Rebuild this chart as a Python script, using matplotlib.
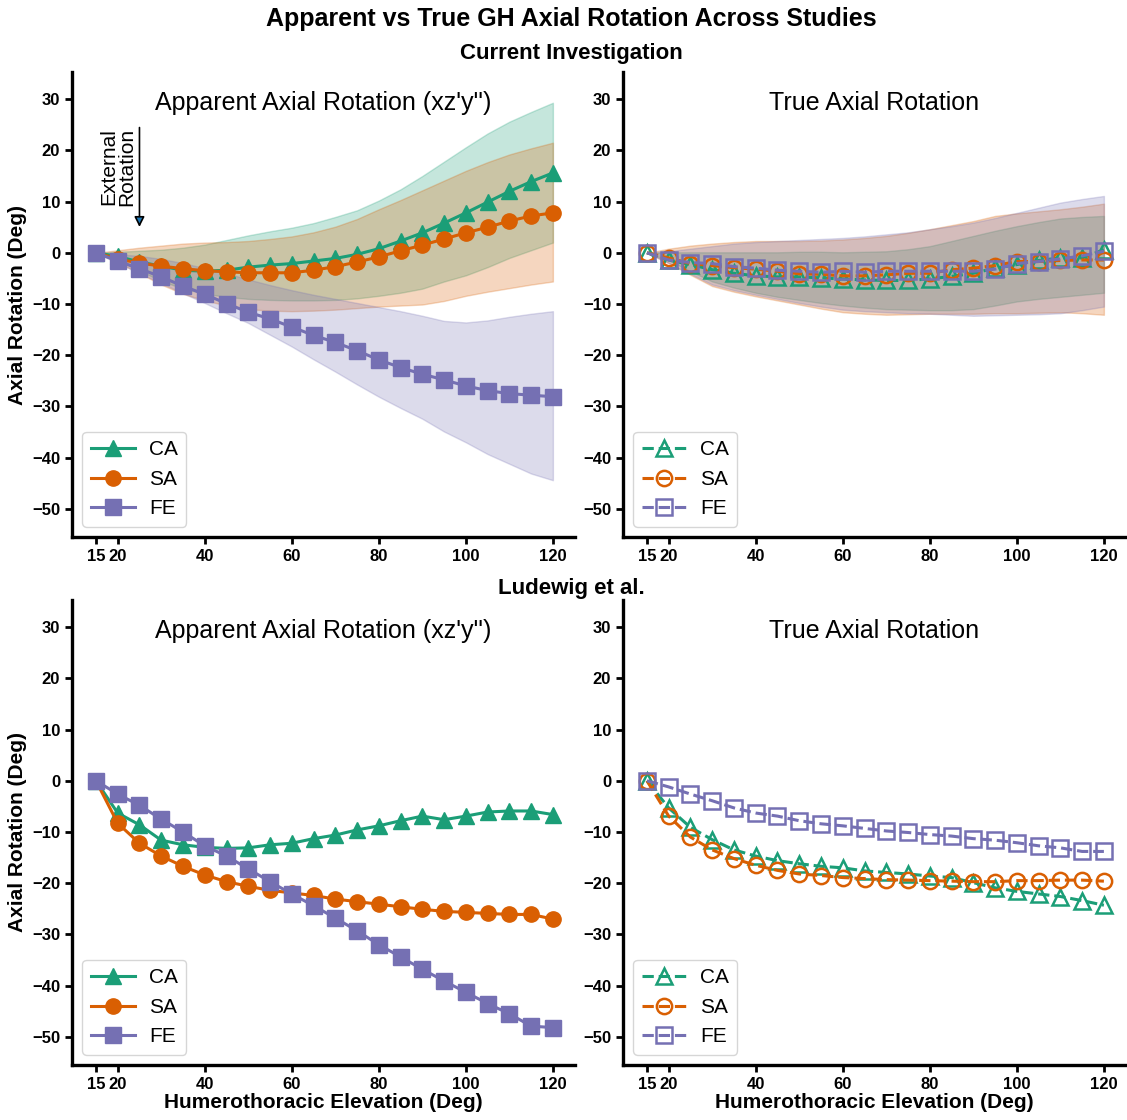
import matplotlib
matplotlib.use("Agg")
import matplotlib.pyplot as plt

plt.rcParams["font.family"] = ["Liberation Sans", "DejaVu Sans"]

elev = [15, 20, 25, 30, 35, 40, 45, 50, 55, 60, 65, 70, 75, 80, 85, 90, 95, 100, 105, 110, 115, 120]
planes = ["CA", "SA", "FE"]
colors = {"CA": "#1b9e77", "SA": "#d95f02", "FE": "#7570b3"}
markers = {"CA": "^", "SA": "o", "FE": "s"}

# current investigation - apparent (xz'y'') mean and +/- sd band
cur_app_mean = {
    "CA": [0, -0.7, -1.8, -2.6, -3.4, -3.6, -3.4, -2.8, -2.4, -2.1, -1.6, -1.1, -0.3, 0.8, 2.3, 3.9, 5.8, 7.8, 9.9, 12.0, 13.9, 15.6],
    "SA": [0, -1.2, -2.0, -2.6, -3.1, -3.5, -3.7, -3.9, -3.9, -3.9, -3.4, -2.7, -1.8, -0.8, 0.4, 1.5, 2.7, 3.9, 5.0, 6.2, 7.2, 7.8],
    "FE": [0, -1.6, -3.1, -4.7, -6.5, -8.1, -9.9, -11.6, -12.9, -14.5, -16.1, -17.5, -19.1, -20.9, -22.4, -23.7, -24.8, -26.0, -26.9, -27.5, -27.8, -28.1],
}
cur_app_upper = {
    "CA": [0, 0.2, 0.4, 0.6, 1.0, 1.6, 2.5, 3.4, 4.2, 4.9, 5.8, 7.0, 8.3, 10.2, 12.4, 15.0, 17.8, 20.6, 23.3, 25.6, 27.5, 29.3],
    "SA": [0, 0.5, 1.0, 1.4, 1.8, 2.0, 2.1, 2.3, 2.7, 3.2, 4.0, 5.1, 6.6, 8.5, 10.3, 12.2, 14.1, 16.0, 17.7, 19.2, 20.4, 21.5],
    "FE": [0, -0.3, -0.6, -1.2, -2.0, -3.0, -4.0, -5.2, -6.3, -7.3, -8.2, -9.0, -9.8, -10.6, -11.4, -12.3, -13.3, -13.6, -13.2, -12.5, -11.9, -11.4],
}
cur_app_lower = {
    "CA": [0, -1.5, -3.5, -5.5, -7.0, -8.0, -8.6, -9.0, -9.2, -9.3, -9.3, -9.2, -8.9, -8.4, -7.8, -7.0, -5.6, -4.4, -2.8, -1.0, 0.5, 2.0],
    "SA": [0, -1.8, -4.0, -6.2, -8.0, -9.3, -10.3, -11.0, -11.3, -11.4, -11.3, -11.1, -10.8, -10.5, -10.3, -10.1, -9.4, -8.4, -7.6, -6.9, -6.2, -5.6],
    "FE": [0, -2.0, -4.0, -5.9, -7.9, -9.8, -11.8, -13.7, -16.0, -18.3, -20.8, -23.2, -25.7, -28.1, -30.3, -32.4, -34.9, -37.0, -39.3, -41.2, -43.1, -44.4],
}

# current investigation - true axial rotation
cur_true_mean = {
    "CA": [0, -1.4, -2.3, -3.3, -4.0, -4.5, -4.7, -4.7, -4.9, -5.1, -5.3, -5.4, -5.4, -5.1, -4.6, -4.0, -3.0, -2.3, -1.5, -1.0, -1.0, 0.6],
    "SA": [0, -1.0, -2.1, -2.5, -2.9, -3.2, -3.6, -4.1, -4.2, -4.5, -4.5, -4.3, -4.0, -4.0, -3.3, -3.0, -2.5, -1.7, -1.7, -1.5, -1.4, -1.4],
    "FE": [0, -1.4, -1.9, -2.1, -2.7, -3.0, -3.4, -3.6, -3.8, -3.6, -3.8, -3.6, -3.6, -3.6, -3.6, -3.6, -3.2, -2.1, -1.7, -1.2, -0.6, 0.3],
}
cur_true_upper = {
    "CA": [0, 0.1, 0.1, 0.1, 0.1, 0.1, 0.1, 0.2, 0.2, 0.1, 0.2, 0.3, 0.7, 1.3, 2.3, 3.3, 4.3, 5.2, 6.0, 6.7, 7.0, 7.2],
    "SA": [0, 0.8, 1.4, 1.8, 2.1, 2.3, 2.3, 2.3, 2.4, 2.6, 2.9, 3.3, 3.9, 4.6, 5.4, 6.2, 7.2, 7.7, 8.1, 8.5, 9.0, 9.6],
    "FE": [0, 0.3, 0.8, 1.3, 1.8, 2.1, 2.3, 2.5, 2.7, 2.9, 3.2, 3.6, 4.0, 4.6, 5.2, 5.9, 6.8, 7.8, 8.8, 9.8, 10.5, 11.1],
}
cur_true_lower = {
    "CA": [0, -1.5, -3.6, -5.6, -6.8, -7.8, -8.6, -9.2, -9.8, -10.3, -10.7, -11.0, -11.1, -11.2, -11.2, -11.0, -10.3, -9.5, -9.0, -8.6, -8.2, -7.8],
    "SA": [0, -2.0, -4.3, -6.5, -7.6, -8.5, -9.3, -10.1, -10.9, -11.6, -11.9, -12.1, -12.0, -11.9, -11.9, -11.9, -11.8, -11.8, -11.7, -11.6, -11.8, -12.1],
    "FE": [0, -2.0, -4.1, -6.2, -7.3, -8.2, -9.0, -9.8, -10.5, -11.1, -11.4, -11.6, -11.8, -11.9, -12.1, -12.3, -12.2, -12.1, -12.0, -11.8, -11.2, -10.5],
}

# Ludewig et al.
lud_app = {
    "CA": [0, -6.3, -8.6, -11.6, -12.5, -13.0, -13.2, -13.1, -12.5, -12.2, -11.3, -10.6, -9.6, -8.8, -7.8, -6.9, -7.6, -6.9, -6.1, -5.9, -5.9, -6.6],
    "SA": [0, -8.3, -12.2, -14.7, -16.7, -18.4, -19.7, -20.6, -21.4, -21.9, -22.4, -23.1, -23.6, -24.1, -24.6, -25.1, -25.5, -25.7, -25.9, -26.1, -26.1, -27.0],
    "FE": [0, -2.6, -4.8, -7.5, -10.0, -12.7, -14.7, -17.2, -19.7, -22.1, -24.4, -26.8, -29.3, -32.0, -34.4, -36.8, -39.1, -41.3, -43.5, -45.5, -47.9, -48.2],
}
lud_true = {
    "CA": [0, -5.3, -9.1, -11.5, -13.5, -14.7, -15.6, -16.2, -16.7, -17.0, -17.6, -17.9, -18.2, -18.6, -18.9, -19.9, -20.9, -21.6, -22.1, -22.6, -23.4, -24.3],
    "SA": [0, -6.9, -11.0, -13.5, -15.2, -16.5, -17.5, -18.2, -18.5, -18.9, -19.1, -19.3, -19.4, -19.5, -19.6, -19.7, -19.7, -19.5, -19.5, -19.4, -19.4, -19.6],
    "FE": [0, -1.2, -2.6, -3.9, -5.3, -6.3, -6.9, -7.8, -8.4, -8.8, -9.3, -9.8, -10.1, -10.5, -10.8, -11.3, -11.6, -12.1, -12.7, -13.1, -13.8, -13.8],
}

x_ticks = [15, 20, 40, 60, 80, 100, 120]
y_ticks = [-50, -40, -30, -20, -10, 0, 10, 20, 30]


def style_axis(ax, title, xlabel=False):
    ax.set_xlim(9.5, 125)
    ax.set_ylim(-55.5, 35.3)
    ax.set_xticks(x_ticks)
    ax.set_yticks(y_ticks)
    for side in ["top", "right"]:
        ax.spines[side].set_visible(False)
    for side in ["left", "bottom"]:
        ax.spines[side].set_linewidth(2.4)
    ax.tick_params(width=2, length=5, labelsize=12)
    for lbl in ax.get_xticklabels() + ax.get_yticklabels():
        lbl.set_fontweight("bold")
    ax.set_title(title, fontsize=18, y=0.9)
    if xlabel:
        ax.set_xlabel("Humerothoracic Elevation (Deg)", fontsize=15, fontweight="bold", labelpad=1)
    ax.legend(loc="lower left", fontsize=15, handlelength=2.1, handletextpad=0.7,
              labelspacing=0.5)


def plot_apparent(ax, means, upper=None, lower=None):
    for p in planes:
        c = colors[p]
        if upper is not None:
            ax.fill_between(elev, lower[p], upper[p], color=c, alpha=0.25, linewidth=1)
        ax.plot(elev, means[p], color=c, marker=markers[p], markersize=11, linewidth=2.2, label=p)


def plot_true(ax, means, upper=None, lower=None):
    for p in planes:
        c = colors[p]
        if upper is not None:
            ax.fill_between(elev, lower[p], upper[p], color=c, alpha=0.25, linewidth=1)
        ax.plot(elev, means[p], color=c, marker=markers[p], markersize=11, linewidth=2.2,
                linestyle="--", markerfacecolor="none", markeredgewidth=1.8, label=p)


fig = plt.figure(figsize=(11.27, 11.2), dpi=100)
ax_tl = fig.add_axes([0.0639, 0.5205, 0.446, 0.4152])
ax_tr = fig.add_axes([0.5528, 0.5205, 0.446, 0.4152])
ax_bl = fig.add_axes([0.0639, 0.0491, 0.446, 0.4152])
ax_br = fig.add_axes([0.5528, 0.0491, 0.446, 0.4152])

plot_apparent(ax_tl, cur_app_mean, cur_app_upper, cur_app_lower)
plot_true(ax_tr, cur_true_mean, cur_true_upper, cur_true_lower)
plot_apparent(ax_bl, lud_app)
plot_true(ax_br, lud_true)

style_axis(ax_tl, "Apparent Axial Rotation (xz'y'')")
style_axis(ax_tr, "True Axial Rotation")
style_axis(ax_bl, "Apparent Axial Rotation (xz'y'')", xlabel=True)
style_axis(ax_br, "True Axial Rotation", xlabel=True)

for ax in [ax_tl, ax_bl]:
    ax.set_ylabel("Axial Rotation (Deg)", fontsize=15, fontweight="bold", labelpad=4)

# external rotation marker
ax_tl.annotate("", xy=(25, 4.5), xytext=(25, 25),
               arrowprops=dict(arrowstyle="-|>", facecolor="#1f77b4", edgecolor="black",
                               linewidth=1.2, mutation_scale=15))
ax_tl.text(20.0, 9.2, "External\nRotation", rotation=90, fontsize=15,
           ha="center", va="bottom", linespacing=0.95)

fig.text(0.507, 0.983, "Apparent vs True GH Axial Rotation Across Studies",
         fontsize=18, fontweight="bold", ha="center", va="center")
fig.text(0.507, 0.952, "Current Investigation", fontsize=16, fontweight="bold",
         ha="center", va="center")
fig.text(0.507, 0.4745, "Ludewig et al.", fontsize=16, fontweight="bold",
         ha="center", va="center")

fig.savefig("out.png", dpi=100)
